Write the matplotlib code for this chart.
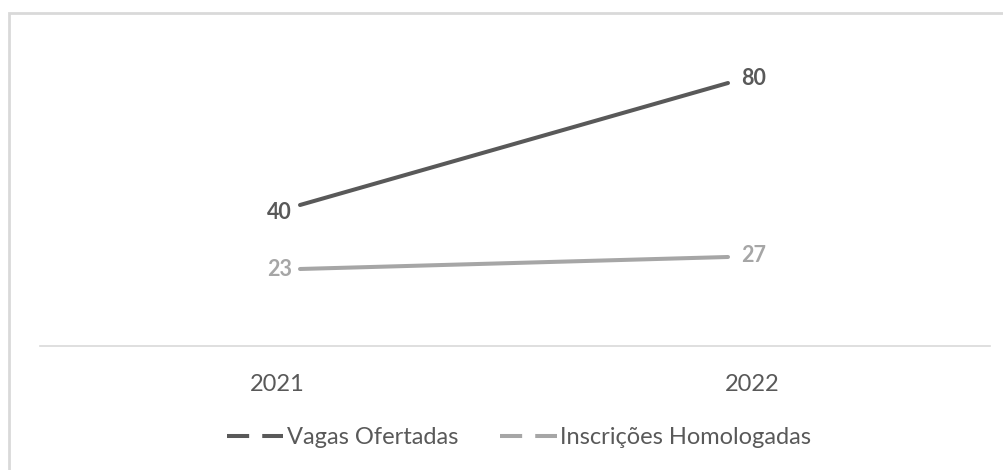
import matplotlib
matplotlib.use("Agg")
import matplotlib.pyplot as plt
from matplotlib.lines import Line2D
from matplotlib.patches import Rectangle

plt.rcParams['font.family'] = ['Lato', 'DejaVu Sans']

# ---- data ----
categories = ["2021", "2022"]
vagas = [40, 80]
inscricoes = [23, 27]
series_names = ["Vagas Ofertadas", "Inscrições Homologadas"]

dark = "#595959"
light = "#a6a6a6"
text_col = "#595959"

W, H = 1004, 470
fig = plt.figure(figsize=(W / 100, H / 100), dpi=100)

def px_rect(x0, y0, x1, y1):
    return [x0 / W, 1 - y1 / H, (x1 - x0) / W, (y1 - y0) / H]

rect = px_rect(40, 40, 990, 346)
ax = fig.add_axes(rect)
xs = list(range(len(categories)))
ax.set_xlim(-0.5, len(categories) - 0.5)
ax.set_xticks(xs)
ax.set_xticklabels(categories, fontsize=17, color=text_col)
ax.tick_params(axis='x', length=0, pad=20)
ax.set_yticks([])
for s in ['top', 'left', 'right']:
    ax.spines[s].set_visible(False)
ax.spines['bottom'].set_color('#d9d9d9')
ax.spines['bottom'].set_linewidth(1.2)
ax.patch.set_alpha(0)

# line axes (positions of points)
def line_axes(ylim):
    a = fig.add_axes(rect)
    a.set_xlim(-(300 - 40) / 428, (990 - 300) / 428)
    a.set_ylim(*ylim)
    a.axis('off')
    a.patch.set_alpha(0)
    return a

axd = line_axes((-6.23, 94.1))
axl = line_axes((-2.67, 99.33))

axd.plot(xs, vagas, color=dark, lw=2.9, solid_capstyle='round')
axl.plot(xs, inscricoes, color=light, lw=2.9, solid_capstyle='round')

def px(v):
    return v * 0.72

label_fs = 15.5
# dark labels
axd.annotate(str(vagas[0]), (xs[0], vagas[0]), xytext=(px(-8), px(-7)),
             textcoords='offset points', ha='right', va='center',
             fontsize=label_fs, fontweight='bold', color=dark)
axd.annotate(str(vagas[1]), (xs[1], vagas[1]), xytext=(px(13), px(4.5)),
             textcoords='offset points', ha='left', va='center',
             fontsize=label_fs, fontweight='bold', color=dark)
axl.annotate(str(inscricoes[0]), (xs[0], inscricoes[0]), xytext=(px(-8), px(-1)),
             textcoords='offset points', ha='right', va='center',
             fontsize=label_fs, fontweight='bold', color=light)
axl.annotate(str(inscricoes[1]), (xs[1], inscricoes[1]), xytext=(px(13), px(1)),
             textcoords='offset points', ha='left', va='center',
             fontsize=label_fs, fontweight='bold', color=light)

# legend
handles = [
    Line2D([0], [0], color=dark, lw=2.9, linestyle=(0, (5.5, 3.25))),
    Line2D([0], [0], color=light, lw=2.9, linestyle=(0, (5.5, 3.25))),
]
leg = fig.legend(handles, series_names, loc='center',
                 bbox_to_anchor=(519 / W, 1 - 438 / H), ncol=2, frameon=False,
                 fontsize=17, handlelength=2.41, handletextpad=0.13,
                 columnspacing=1.8, borderpad=0, borderaxespad=0)
for t in leg.get_texts():
    t.set_color(text_col)

# outer border (top & left visible, rest cropped)
fig.patches.append(Rectangle((9 / W, -0.05), 1.2, 1 - 13 / H + 0.05,
                             transform=fig.transFigure, fill=False,
                             edgecolor='#d9d9d9', linewidth=2, clip_on=False))

fig.savefig("out.png", dpi=100)
